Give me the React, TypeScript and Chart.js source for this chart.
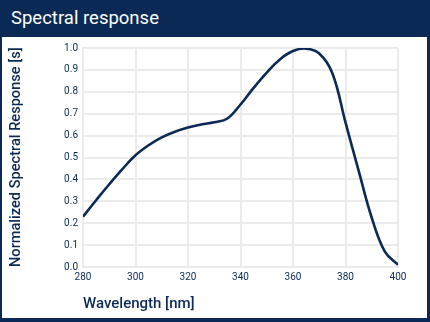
import React, { useEffect, useRef } from "react";
import { Chart, registerables } from "chart.js";

Chart.register(...registerables);

const wavelengths = [280, 285, 290, 295, 300, 305, 310, 315, 320, 325, 330, 335, 340, 345, 350, 355, 360, 365, 370, 375, 380, 385, 390, 395, 400];
const response = [0.23, 0.305, 0.378, 0.447, 0.51, 0.556, 0.592, 0.618, 0.637, 0.651, 0.661, 0.678, 0.742, 0.818, 0.888, 0.948, 0.986, 0.997, 0.975, 0.885, 0.66, 0.44, 0.225, 0.07, 0.01];

const titleText = "Spectral response";
const xTitle = "Wavelength [nm]";
const yTitle = "Normalized Spectral Response [s]";

const NAVY = "#0a2a55";
const GRID = "#ebebeb";
const FONT = "Roboto";

export default function App() {
  const ref = useRef<HTMLCanvasElement>(null);
  useEffect(() => {
    if (!ref.current) return;
    const chart = new Chart(ref.current, {
      type: "line",
      data: {
        datasets: [
          {
            data: wavelengths.map((x, i) => ({ x, y: response[i] })),
            borderColor: NAVY,
            borderWidth: 2.6,
            pointRadius: 0,
            tension: 0.4,
            fill: false,
          },
        ],
      },
      options: {
        animation: false,
        responsive: false,
        maintainAspectRatio: false,
        layout: { padding: { top: 10, right: 29, bottom: 0, left: 0 } },
        plugins: { legend: { display: false }, tooltip: { enabled: false } },
        scales: {
          x: {
            type: "linear",
            min: 280,
            max: 400,
            afterFit: (s: any) => { s.height = 51; },
            grid: { color: GRID, lineWidth: 2, drawTicks: false },
            border: { color: GRID, width: 2 },
            ticks: {
              stepSize: 20,
              padding: 4,
              color: NAVY,
              font: { family: FONT, size: 10, weight: "400" },
            },
            title: {
              display: true,
              text: xTitle,
              align: "start",
              color: NAVY,
              padding: { top: 0, bottom: 5 },
              font: { family: FONT, size: 15, weight: "500" },
            },
          },
          y: {
            min: 0,
            max: 1,
            afterFit: (s: any) => { s.width = 81; },
            grid: { color: GRID, lineWidth: 2, drawTicks: false },
            border: { color: GRID, width: 2 },
            ticks: {
              stepSize: 0.1,
              padding: 5,
              color: NAVY,
              font: { family: FONT, size: 10, weight: "400" },
              callback: (v: any) => Number(v).toFixed(1),
            },
            title: {
              display: true,
              text: yTitle,
              align: "start",
              color: NAVY,
              padding: { top: 6, bottom: 0 },
              font: { family: FONT, size: 14.6, weight: "500" },
            },
          },
        },
      },
    });
    return () => chart.destroy();
  }, []);

  return (
    <div style={{ position: "fixed", left: 0, top: 0, width: 430, height: 322, background: NAVY, overflow: "hidden" }}>
      <div
        style={{
          position: "absolute",
          left: 11,
          top: 5,
          color: "#ffffff",
          fontFamily: FONT,
          fontSize: 18.5,
          fontWeight: 400,
          lineHeight: "26px",
          whiteSpace: "nowrap",
        }}
      >
        {titleText}
      </div>
      <div style={{ position: "absolute", left: 2, top: 37, width: 425, height: 281, background: "#ffffff" }}>
        <canvas ref={ref} width={425} height={281} style={{ display: "block" }} />
      </div>
    </div>
  );
}
